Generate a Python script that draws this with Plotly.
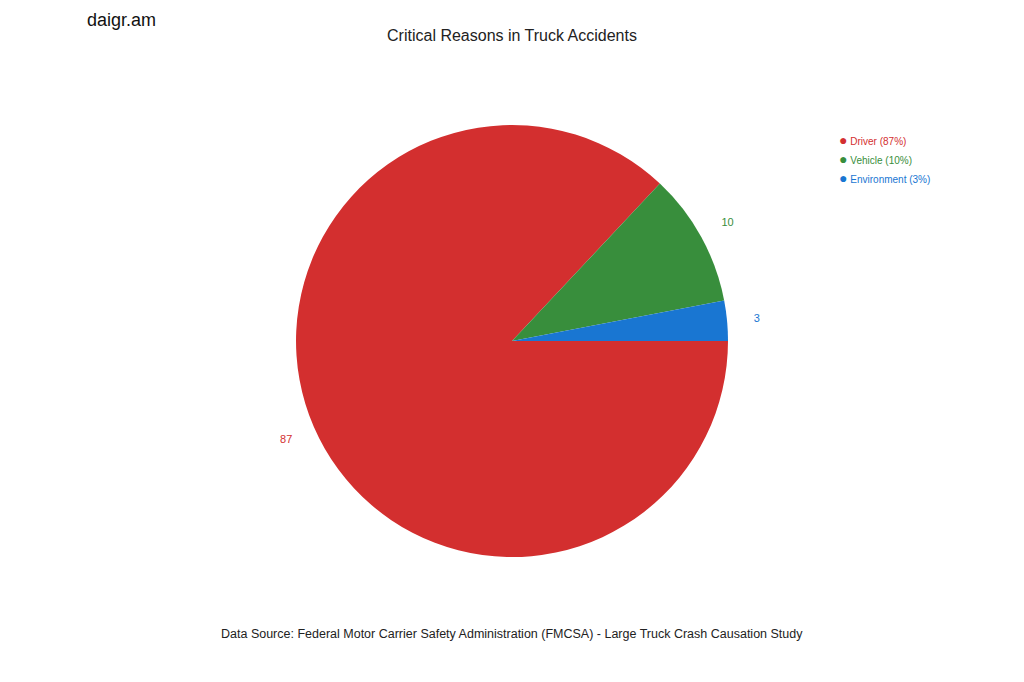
import plotly.graph_objects as go

# data
categories = ["Driver", "Vehicle", "Environment"]
values = [87, 10, 3]
colors = ["#D32F2F", "#388E3C", "#1976D2"]

fig = go.Figure()

# the pie itself
fig.add_trace(go.Pie(
    labels=categories,
    values=values,
    marker=dict(colors=colors, line=dict(width=0)),
    sort=False,
    direction="clockwise",
    rotation=90,
    textinfo="none",
    showlegend=False,
    domain=dict(x=[0, 0.9844], y=[0.195, 0.8284]),
))

# transparent ring just outside the pie, only used to carry the value labels
fig.add_trace(go.Pie(
    labels=categories,
    values=values,
    hole=0.878,
    marker=dict(colors=["rgba(0,0,0,0)"] * 3, line=dict(width=0)),
    sort=False,
    direction="clockwise",
    rotation=90,
    textinfo="value",
    textposition="inside",
    insidetextorientation="horizontal",
    insidetextfont=dict(color=colors, size=11),
    hoverinfo="skip",
    showlegend=False,
    domain=dict(x=[0, 0.9844], y=[0.1276, 0.8959]),
))

# legend entries: coloured dot + coloured text
for cat, val, col in zip(categories, values, colors):
    fig.add_trace(go.Scatter(
        x=[None], y=[None], mode="markers",
        marker=dict(size=1, color="rgba(0,0,0,0)"),
        name=(f"<span style='color:{col}'><span style='font-size:14px'>●</span>"
              f" {cat} ({val}%)</span>"),
    ))

fig.update_layout(
    width=1024, height=682,
    margin=dict(l=0, r=0, t=0, b=0, autoexpand=False),
    paper_bgcolor="white", plot_bgcolor="white",
    font=dict(family="Liberation Sans, Arial, sans-serif", color="#222"),
    xaxis=dict(visible=False), yaxis=dict(visible=False),
    title=dict(text="Critical Reasons in Truck Accidents", x=0.4922, xanchor="center",
               y=0.960, yanchor="middle", font=dict(size=16, color="#222")),
    legend=dict(x=0.7725, y=0.8255, xanchor="left", yanchor="top",
                font=dict(size=10), itemwidth=30, tracegroupgap=0,
                bgcolor="rgba(0,0,0,0)"),
    annotations=[
        dict(text="daigr.am", x=0.0752, y=1.0, xref="paper", yref="paper",
             xanchor="left", yanchor="top", showarrow=False,
             font=dict(size=18, color="#111")),
        dict(text="Data Source: Federal Motor Carrier Safety Administration (FMCSA) - Large Truck Crash Causation Study",
             x=0.4922, y=0.0821, xref="paper", yref="paper", xanchor="center", yanchor="middle",
             showarrow=False, font=dict(size=12.5, color="#222")),
    ],
)

fig.write_html("out.html")
